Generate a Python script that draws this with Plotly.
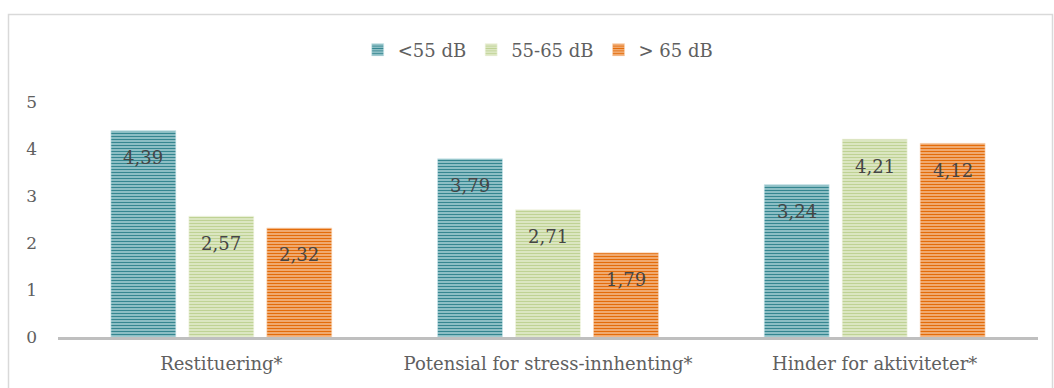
import plotly.graph_objects as go

categories = ["Restituering*", "Potensial for stress-innhenting*", "Hinder for aktiviteter*"]
series_names = ["<55 dB", "55-65 dB", "> 65 dB"]
values_lt55 = [4.39, 3.79, 3.24]
values_55_65 = [2.57, 2.71, 4.21]
values_gt65 = [2.32, 1.79, 4.12]
y_ticks = [0, 1, 2, 3, 4, 5]

series_values = [values_lt55, values_55_65, values_gt65]
stripe_fg = ["#358690", "#bfd294", "#e36c0a"]
stripe_bg = ["#cde8ec", "#f1f5e3", "#fad6ba"]

FONT = "DejaVu Serif"
W, H = 1054, 388
L, R, T, B = 58, 16, 102, 51
plot_w = W - L - R
plot_h = H - T - B

fig = go.Figure()
for name, vals, fg, bg in zip(series_names, series_values, stripe_fg, stripe_bg):
    fig.add_trace(go.Bar(
        name=name,
        x=categories,
        y=vals,
        marker=dict(
            color=bg,
            line=dict(width=0.6, color=bg),
            pattern=dict(shape="-", size=3, solidity=0.62, fgcolor=fg, bgcolor=bg, fillmode="replace"),
        ),
    ))

# value labels a little below the top of each bar
bargap, bargroupgap = 0.284, 0.167
slot_px = plot_w / len(categories) * (1 - bargap) / len(series_names)
for i, vals in enumerate(series_values):
    for cat, v in zip(categories, vals):
        fig.add_annotation(
            x=cat, y=v, xref="x", yref="y",
            text=f"{v:.2f}".replace(".", ","),
            showarrow=False,
            xshift=(i - 1) * slot_px,
            yshift=-27,
            font=dict(family=FONT, size=18, color="#454545"),
        )

# outer frame of the chart
fig.add_shape(
    type="rect", xref="paper", yref="paper",
    x0=(8.5 - L) / plot_w, x1=(1052.5 - L) / plot_w,
    y0=-0.5, y1=(H - B - 14.5) / plot_h,
    line=dict(color="#d9d9d9", width=1.5), fillcolor="rgba(0,0,0,0)", layer="below",
)

fig.update_layout(
    width=W, height=H,
    margin=dict(l=L, r=R, t=T, b=B),
    paper_bgcolor="white", plot_bgcolor="white",
    barmode="group", bargap=bargap, bargroupgap=bargroupgap,
    font=dict(family=FONT, size=18, color="#606060"),
    showlegend=True,
    legend=dict(
        orientation="h", x=0.49, xanchor="center", y=(H - B - 50) / plot_h, yanchor="middle",
        font=dict(family=FONT, size=18, color="#606060"),
        itemwidth=30, traceorder="normal",
    ),
    xaxis=dict(
        showline=True, linecolor="#bfbfbf", linewidth=3,
        ticks="", showgrid=False, ticklabelstandoff=8,
        tickfont=dict(family=FONT, size=18, color="#606060"),
    ),
    yaxis=dict(
        range=[0, 5], tickvals=y_ticks, showgrid=False, zeroline=False,
        showline=False, ticks="", ticklabelstandoff=20,
        tickfont=dict(family=FONT, size=17, color="#606060"),
    ),
)

fig.write_html("out.html")
